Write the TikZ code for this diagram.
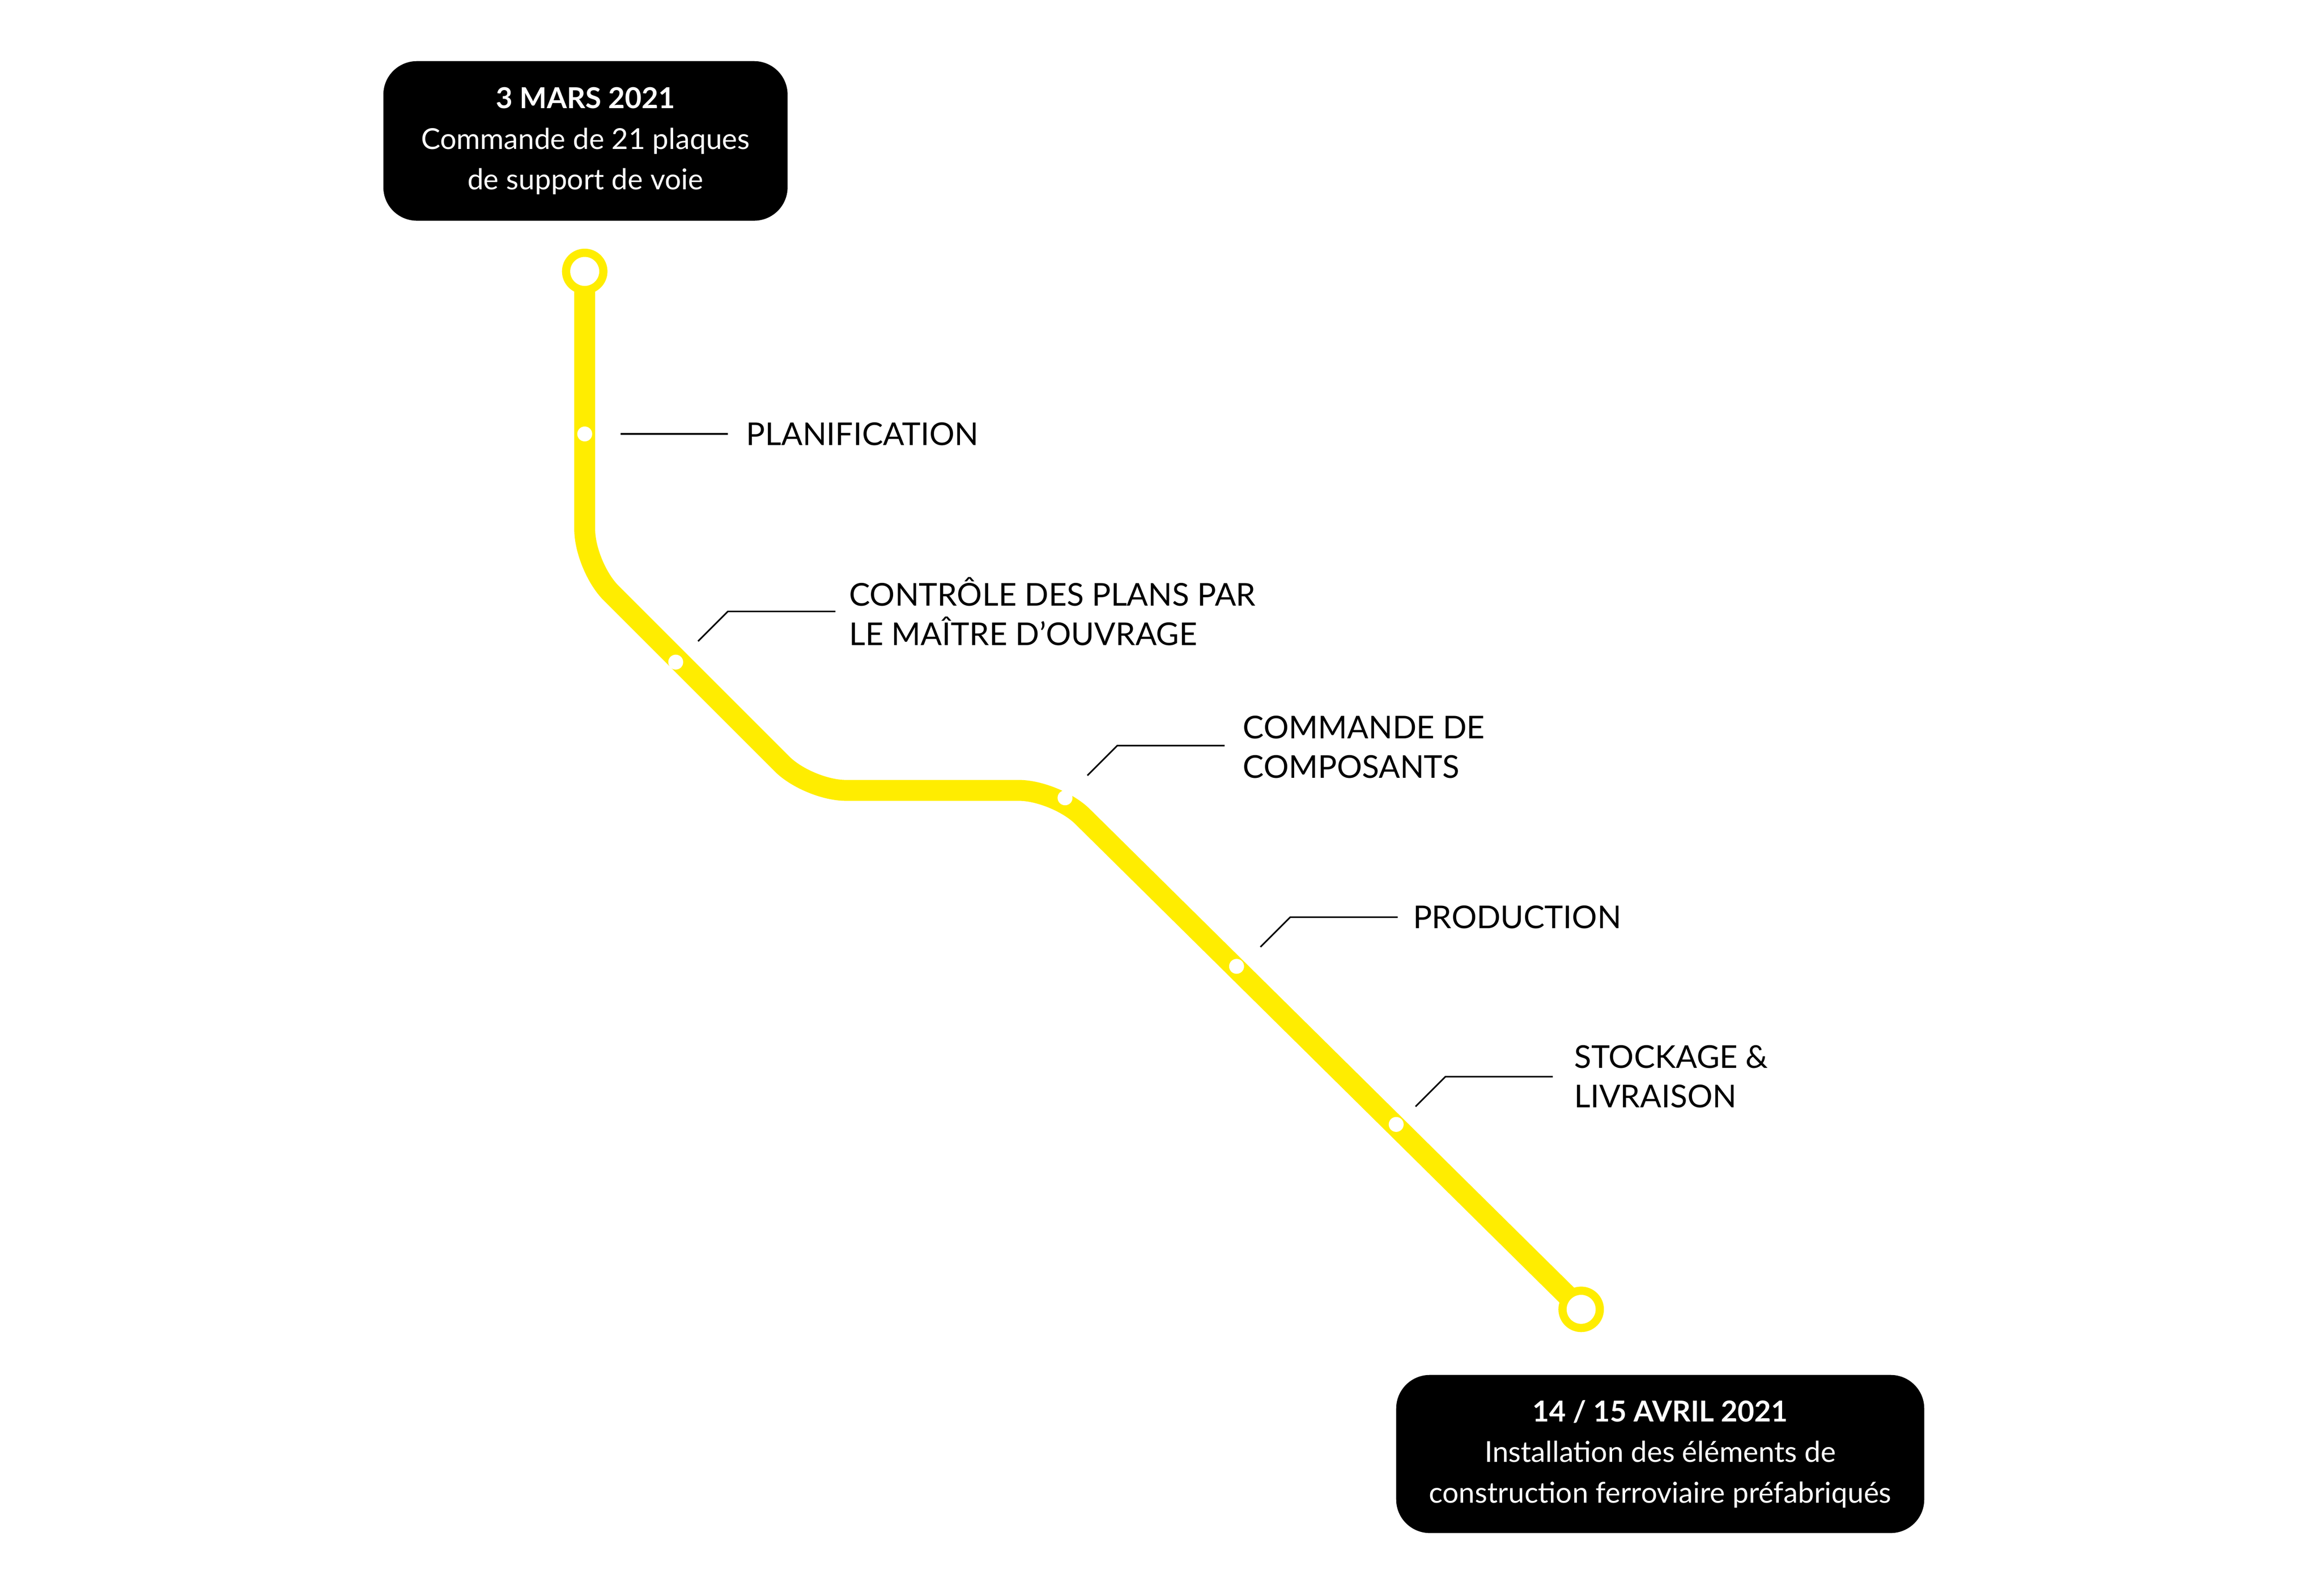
\documentclass[tikz,border=0pt]{standalone}
\usepackage{fontspec}
\setmainfont{Lato}
\usetikzlibrary{positioning}
\definecolor{metro}{RGB}{255,237,0}
\tikzset{
  datebox/.style={fill=black,text=white,rounded corners=0.45cm,align=center,font=\fontsize{11}{15.5}\selectfont},
  stop/.style={circle,fill=white,inner sep=0pt,minimum size=0.2cm},
  terminus/.style={circle,draw=metro,line width=0.11cm,fill=white,inner sep=0pt,minimum size=0.5cm},
  lbl/.style={anchor=west,align=left,font=\fontsize{12}{15}\selectfont,inner sep=0pt},
  leader/.style={line width=0.6pt}
}
\begin{document}
\begin{tikzpicture}[x=0.02cm,y=-0.02cm]
	\useasboundingbox (0,0) rectangle (1556,1070);
	\node[datebox,minimum width=271*0.02cm,minimum height=107*0.02cm] (start) at (392.5,94.5) {\textbf{3 MARS 2021}\\Commande de 21 plaques\\de support de voie};
	\node[datebox,minimum width=354*0.02cm,minimum height=106*0.02cm] (end) at (1113,975) {\textbf{14 / 15 AVRIL 2021}\\Installation des éléments de\\construction ferroviaire préfabriqués};
	% track
	\coordinate (t0) at (392,182);
	\coordinate (t1) at (392,380);
	\coordinate (t2) at (542,530);
	\coordinate (t3) at (708,530);
	\coordinate (t4) at (1060,878);
	\draw[metro,line width=0.28cm,rounded corners=0.5cm] (t0) -- (t1) -- (t2) -- (t3) -- (t4);
	\node[terminus] (a) at (t0) {};
	\node[terminus] (b) at (t4) {};
	% stops
	\node[stop] (s1) at (392,291) {};
	\node[stop] (s2) at (453,444) {};
	\node[stop] (s3) at (714,535) {};
	\node[stop] (s4) at (829,648) {};
	\node[stop] (s5) at (936,754) {};
	% labels
	\node[lbl] (l1) at (500,291) {PLANIFICATION};
	\node[lbl] (l2) at (569,410) {CONTRÔLE DES PLANS PAR\\LE MAÎTRE D'OUVRAGE};
	\node[lbl] (l3) at (833,501) {COMMANDE DE\\COMPOSANTS};
	\node[lbl] (l4) at (947,615) {PRODUCTION};
	\node[lbl] (l5) at (1055,722) {STOCKAGE \&\\LIVRAISON};
	\coordinate (c2) at (488,410);
	\coordinate (c3) at (749,500);
	\coordinate (c4) at (865,615);
	\coordinate (c5) at (969,722);
	\draw[leader] (416,291) -- (488,291);
	\draw[leader] (468,430) -- (c2) -- (560,410);
	\draw[leader] (729,520) -- (c3) -- (821,500);
	\draw[leader] (845,635) -- (c4) -- (937,615);
	\draw[leader] (949,742) -- (c5) -- (1041,722);
\end{tikzpicture}
\end{document}
